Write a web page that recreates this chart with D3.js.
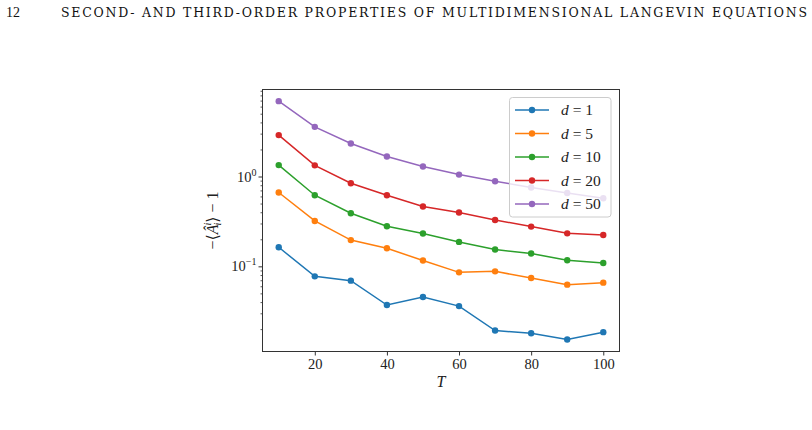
<!DOCTYPE html>
<html><head><meta charset="utf-8">
<script src="https://cdn.jsdelivr.net/npm/d3@7"></script>
<style>body{margin:0;background:#fff}svg{display:block}</style>
</head><body>
<svg id="c" width="812" height="430"></svg>
<script>
const T = [10,20,30,40,50,60,70,80,90,100];
const dLabels = ["1","5","10","20","50"];
const colors = ["#1f77b4","#ff7f0e","#2ca02c","#d62728","#9467bd"];
const s1  = [0.163,0.0774,0.0693,0.0371,0.0455,0.0361,0.0193,0.0180,0.0153,0.0185];
const s5  = [0.663,0.320,0.196,0.159,0.116,0.0857,0.0879,0.0741,0.0625,0.0658];
const s10 = [1.34,0.619,0.390,0.279,0.232,0.187,0.154,0.139,0.117,0.109];
const s20 = [2.89,1.33,0.842,0.619,0.463,0.397,0.328,0.277,0.233,0.223];
const s50 = [6.9,3.57,2.33,1.67,1.29,1.05,0.887,0.754,0.656,0.573];
const series = [s1,s5,s10,s20,s50];
const xTicks = [20,40,60,80,100];
const yMajor = [0.1,1];
const yMinor = [0.02,0.03,0.04,0.05,0.06,0.07,0.08,0.09,0.2,0.3,0.4,0.5,0.6,0.7,0.8,0.9,2,3,4,5,6,7,8,9];
const header = "SECOND- AND THIRD-ORDER PROPERTIES OF MULTIDIMENSIONAL LANGEVIN EQUATIONS";

const svg = d3.select("#c");
const serif = "'Liberation Serif','DejaVu Serif',serif";
const L=262.5, R=619.5, Tp=89.5, B=351.5;
const x = d3.scaleLinear().domain([5.5,104.5]).range([L,R]);
const y = d3.scaleLog().domain([0.01127,9.3]).range([B,Tp]);

// header
svg.append("text").attr("x",6).attr("y",17).attr("font-family",serif).attr("font-size",14).attr("fill","#111").text("12");
svg.append("text").attr("x",61).attr("y",17).attr("font-family","'DejaVu Serif',serif").attr("font-size",12.5).attr("fill","#111")
  .attr("textLength",746).attr("lengthAdjust","spacing").text(header);

const g = svg.append("g");
// x axis
const xa = g.append("g").attr("transform",`translate(0,${B})`)
  .call(d3.axisBottom(x).tickValues(xTicks).tickSize(4).tickPadding(3).tickFormat(d3.format("d")));
xa.select(".domain").remove();
xa.selectAll("line").attr("stroke","#333");
xa.selectAll("text").attr("font-family",serif).attr("font-size",14.5).attr("fill","#222");

// y axis major
const ya = g.append("g").attr("transform",`translate(${L},0)`)
  .call(d3.axisLeft(y).tickValues(yMajor).tickSize(4).tickPadding(3).tickFormat(""));
ya.select(".domain").remove();
ya.selectAll("line").attr("stroke","#333");
const ym = g.append("g").attr("transform",`translate(${L},0)`)
  .call(d3.axisLeft(y).tickValues(yMinor).tickSize(2).tickFormat(""));
ym.select(".domain").remove();
ym.selectAll("line").attr("stroke","#333").attr("stroke-width",0.8);

yMajor.forEach(v=>{
  const t = g.append("text").attr("x",L-6).attr("y",y(v)+5).attr("text-anchor","end")
    .attr("font-family",serif).attr("font-size",14.5).attr("fill","#222");
  t.append("tspan").text("10");
  t.append("tspan").attr("dy",-6).attr("font-size",10).text(v===1?"0":"\u22121");
});

// labels
svg.append("text").attr("x",(L+R)/2).attr("y",387).attr("text-anchor","middle")
  .attr("font-family",serif).attr("font-style","italic").attr("font-size",16).attr("fill","#222").text("T");
const yl = svg.append("text").attr("transform",`translate(218,${(Tp+B)/2}) rotate(-90)`).attr("text-anchor","middle")
  .attr("font-family",serif).attr("font-size",16).attr("fill","#222");
yl.append("tspan").text("\u2212\u27E8");
yl.append("tspan").attr("font-style","italic").text("\u00C2");
yl.append("tspan").attr("font-style","italic").attr("font-size",10).attr("dy",-7).attr("dx",-1).text("i");
yl.append("tspan").attr("font-style","italic").attr("font-size",10).attr("dy",10).attr("dx",-3).text("i");
yl.append("tspan").attr("dy",-3).text("\u27E9 \u2212 1");

// series
const line = d3.line().x((d,i)=>x(T[i])).y(d=>y(d));
series.forEach((s,k)=>{
  g.append("path").datum(s).attr("d",line).attr("fill","none").attr("stroke",colors[k]).attr("stroke-width",1.5);
  g.selectAll(null).data(s).enter().append("circle").attr("cx",(d,i)=>x(T[i])).attr("cy",d=>y(d)).attr("r",3.2).attr("fill",colors[k]);
});

// frame
g.append("rect").attr("x",L).attr("y",Tp).attr("width",R-L).attr("height",B-Tp).attr("fill","none").attr("stroke","#333").attr("stroke-width",1);

// legend
const lg = svg.append("g");
lg.append("rect").attr("x",509.5).attr("y",97.5).attr("width",101.5).attr("height",119.5).attr("rx",3)
  .attr("fill","#fff").attr("fill-opacity",0.8).attr("stroke","#ccc").attr("stroke-width",1);
dLabels.forEach((d,k)=>{
  const yy = 110 + k*23.5;
  lg.append("line").attr("x1",515).attr("x2",549).attr("y1",yy).attr("y2",yy).attr("stroke",colors[k]).attr("stroke-width",1.5);
  lg.append("circle").attr("cx",532).attr("cy",yy).attr("r",3.2).attr("fill",colors[k]);
  const t = lg.append("text").attr("x",561).attr("y",yy+5).attr("font-family",serif).attr("font-size",15.5).attr("fill","#222");
  t.append("tspan").attr("font-style","italic").text("d");
  t.append("tspan").text(" = "+d);
});
</script>
</body></html>
